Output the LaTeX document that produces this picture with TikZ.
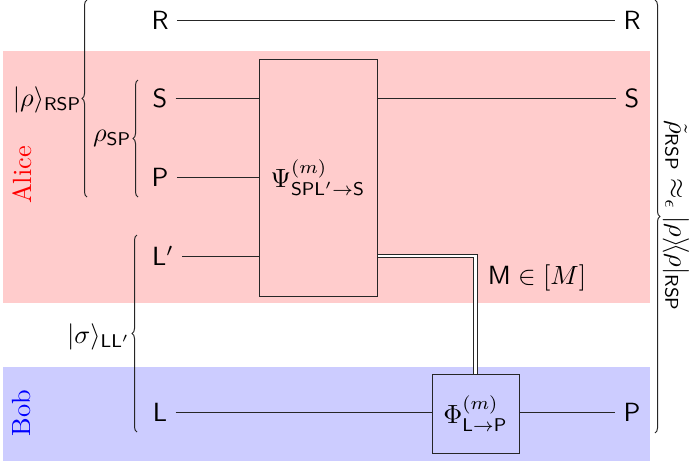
\documentclass[tikz,border=0pt]{standalone}
\usetikzlibrary{decorations.pathreplacing}
\begin{document}
\begin{tikzpicture}[x=0.38pt,y=-0.38pt,
  wire/.style={line width=0.38pt, draw=black!85},
  wlabel/.style={inner sep=3pt},
  gate/.style={draw=black!85, line width=0.38pt, inner sep=0pt},
  cbrace/.style={decorate, decoration={brace, amplitude=1.9pt}, line width=0.38pt, draw=black!85},
  classical/.style={double=white, double distance=0.9pt, line width=0.34pt, draw=black!85}]
\useasboundingbox (0,0) rectangle (700,461);
% backgrounds
\fill[red!20] (3,51) rectangle (650,303);
\fill[blue!20] (3,367) rectangle (650,461);
\node[rotate=90, text=red] (alice) at (22,175) {Alice};
\node[rotate=90, text=blue] (bob) at (22,413) {Bob};
% wire labels
\node[wlabel] (Rl) at (160,20) {$\mathsf{R}$};
\node[wlabel] (Sl) at (160,98) {$\mathsf{S}$};
\node[wlabel] (Pl) at (160,177) {$\mathsf{P}$};
\node[wlabel] (Lpl) at (163,256) {$\mathsf{L'}$};
\node[wlabel] (Ll) at (160,412.5) {$\mathsf{L}$};
\node[wlabel] (Rr) at (632,20) {$\mathsf{R}$};
\node[wlabel] (Sr) at (632,98) {$\mathsf{S}$};
\node[wlabel] (Pr) at (632,412.5) {$\mathsf{P}$};
% gates
\node[gate, fill=red!20, minimum width=44.84pt, minimum height=90.06pt] (Psi) at (318,177.5) {$\Psi^{(m)}_{\mathsf{SPL'}\to\mathsf{S}}$};
\node[gate, fill=blue!20, minimum width=33.06pt, minimum height=30.02pt] (Phi) at (475.5,413.5) {$\Phi^{(m)}_{\mathsf{L}\to\mathsf{P}}$};
% wires
\draw[wire] (Rl) -- (Rr);
\draw[wire] (Sl) -- (Sl -| Psi.west);
\draw[wire] (Psi.east |- Sl) -- (Sr);
\draw[wire] (Pl) -- (Pl -| Psi.west);
\draw[wire] (Lpl) -- (Lpl -| Psi.west);
\draw[wire] (Ll) -- (Ll -| Phi.west);
\draw[wire] (Phi.east |- Pr) -- (Pr);
\draw[classical] (Psi.east |- Lpl) -| (Phi.north);
\node (mlab) at (537,278) {$\mathsf{M}\in[M]$};
% braces
\coordinate (b1a) at (87,197); \coordinate (b1b) at (87,0);
\draw[cbrace] (b1a) -- (b1b);
\node[anchor=east, inner sep=0.8pt] (rhoRSP) at (84,100) {$|\rho\rangle_{\mathsf{RSP}}$};
\coordinate (b2a) at (138,197); \coordinate (b2b) at (138,80);
\draw[cbrace] (b2a) -- (b2b);
\node[anchor=east, inner sep=0.8pt] (rhoSP) at (134,138) {$\rho_{\mathsf{SP}}$};
\coordinate (b3a) at (137,432); \coordinate (b3b) at (137,235);
\draw[cbrace] (b3a) -- (b3b);
\node[anchor=east, inner sep=0.8pt] (sigma) at (133,337) {$|\sigma\rangle_{\mathsf{LL'}}$};
\coordinate (b4a) at (655,0); \coordinate (b4b) at (655,433);
\draw[cbrace] (b4a) -- (b4b);
\node[rotate=-90] (approx) at (676,216) {$\tilde\rho_{\mathsf{RSP}}\approx_\epsilon|\rho\rangle\!\langle\rho|_{\mathsf{RSP}}$};
\end{tikzpicture}
\end{document}
